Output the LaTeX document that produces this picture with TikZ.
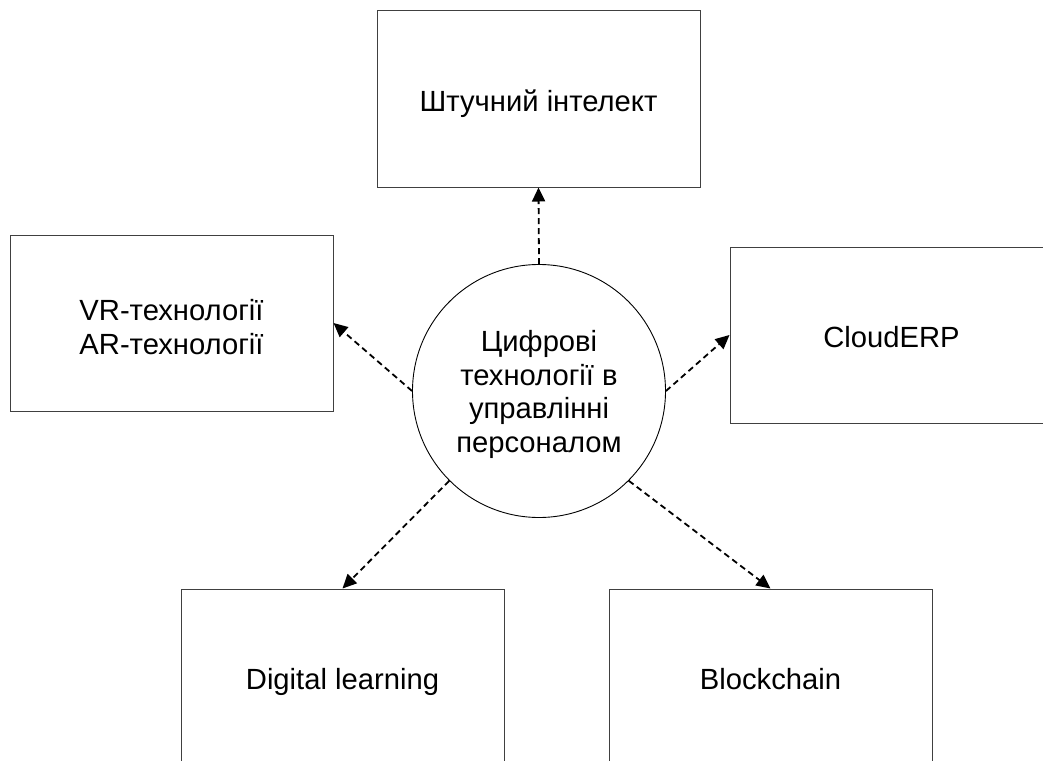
\documentclass[tikz,border=0pt]{standalone}
\usepackage{fontspec}
\setmainfont{Liberation Sans}
\usetikzlibrary{arrows.meta}
\begin{document}
\begin{tikzpicture}[x=1pt,y=-1pt,
  txt/.style={font=\fontsize{29.2}{33.8}\selectfont, align=center},
  boxnode/.style={txt, draw=black!75, line width=1pt, minimum width=323pt, minimum height=176pt, inner sep=0pt},
  oneline/.style={boxnode, text height=28pt, text depth=3pt},
  hub/.style={txt, draw=black, line width=0.9pt, circle, minimum size=253pt, inner sep=0pt},
  link/.style={-{Triangle[length=14pt,width=13pt]}, line width=1.8pt, dash pattern=on 6pt off 4pt}
]
\useasboundingbox (0,0) rectangle (1043,760);
\clip (0,0) rectangle (1043,760);
\fill[white] (0,0) rectangle (1043,760);
\node[hub] (c) at (539,391) {\rule{0pt}{28pt}Цифрові\\технології в\\управлінні\\персоналом};
\node[oneline] (ai) at (538.5,99) {Штучний інтелект};
\node[boxnode] (vr) at (171.5,323) {\rule{0pt}{29pt}VR-технології\\AR-технології};
\node[oneline] (erp) at (891.5,335) {CloudERP};
\node[oneline] (dl) at (342.5,677) {Digital learning};
\node[oneline] (bc) at (770.5,677) {Blockchain};
\draw[link] (c.north) -- (ai.south);
\draw[link] (c.west) -- (vr.east);
\draw[link] (c.east) -- (erp.west);
\draw[link] (c.south west) -- (dl.north);
\draw[link] (c.south east) -- (bc.north);
\end{tikzpicture}
\end{document}
